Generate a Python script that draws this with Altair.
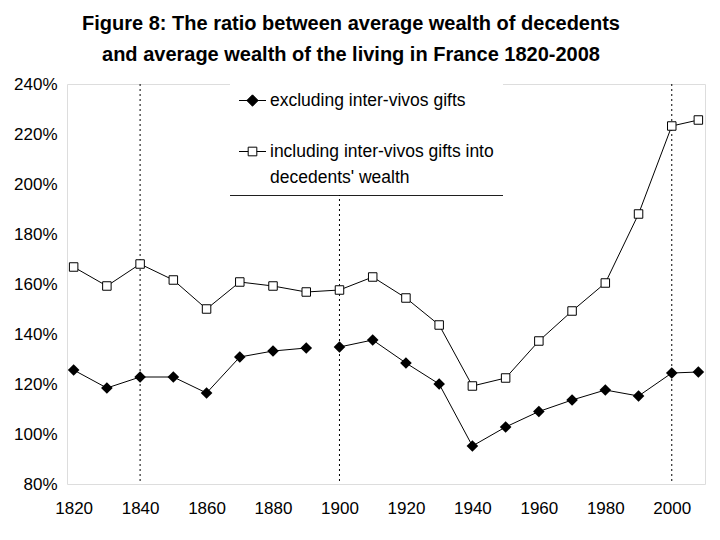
import altair as alt
import pandas as pd

# ---- data ----
years = [1820, 1830, 1840, 1850, 1860, 1870, 1880, 1890, 1900, 1910,
         1920, 1930, 1940, 1950, 1960, 1970, 1980, 1990, 2000, 2008]
excluding = [125.6, 118.4, 122.8, 122.8, 116.4, 130.8, 133.2, 134.4, 134.8, 137.6,
             128.4, 120.0, 95.2, 102.8, 109.0, 113.6, 117.6, 115.2, 124.4, 124.8]
including = [166.8, 159.2, 168.0, 161.6, 150.0, 160.8, 159.2, 156.8, 157.6, 162.8,
             154.4, 143.6, 119.2, 122.4, 137.2, 149.2, 160.4, 188.0, 223.2, 225.6]
series_labels = ["excluding inter-vivos gifts",
                 "including inter-vivos gifts into|decedents' wealth"]
excl_gap_after = 1890          # the excluding line is not drawn between 1890 and 1900
rule_years = [1840, 1900, 2000]
x_ticks = [1820, 1840, 1860, 1880, 1900, 1920, 1940, 1960, 1980, 2000]
y_ticks = [80, 100, 120, 140, 160, 180, 200, 220, 240]
title_lines = ["Figure 8: The ratio between average wealth of decedents",
               "and average wealth of the living in France 1820-2008"]

rows = []
for y, v in zip(years, excluding):
    rows.append({"year": y, "value": v, "series": series_labels[0],
                 "segment": "excl-a" if y <= excl_gap_after else "excl-b"})
for y, v in zip(years, including):
    rows.append({"year": y, "value": v, "series": series_labels[1], "segment": "incl"})
df = pd.DataFrame(rows)
rules_df = pd.DataFrame({"year": rule_years})

FONT = "Liberation Sans"
XSCALE = alt.Scale(domain=[1818, 2010], nice=False, zero=False)

x_enc = alt.X("year:Q", scale=XSCALE,
              axis=alt.Axis(values=x_ticks, format="d", title=None, domain=False, ticks=False,
                            grid=False, labelFontSize=17, labelPadding=16, labelColor="black",
                            labelFont=FONT))
y_enc = alt.Y("value:Q", scale=alt.Scale(domain=[80, 240], nice=False, zero=False),
              axis=alt.Axis(values=y_ticks, labelExpr="datum.value + '%'", title=None,
                            domain=False, ticks=False, grid=False, labelFontSize=17,
                            labelPadding=10, labelColor="black", labelFont=FONT))

rules = alt.Chart(rules_df).mark_rule(color="black", strokeWidth=1, strokeDash=[2, 3]).encode(
    x=alt.X("year:Q", scale=XSCALE)
)

lines = alt.Chart(df).mark_line(color="black", strokeWidth=1).encode(
    x=x_enc, y=y_enc, detail="segment:N", order="year:Q"
)

diamonds = alt.Chart(df).transform_filter(
    alt.datum.series == series_labels[0]
).mark_point(shape="diamond", filled=True, color="black", size=135, opacity=1).encode(
    x="year:Q", y="value:Q"
)

squares = alt.Chart(df).transform_filter(
    alt.datum.series == series_labels[1]
).mark_point(shape="square", filled=True, fill="white", stroke="black", strokeWidth=1,
             size=72, opacity=1).encode(
    x="year:Q", y="value:Q"
)

# legend symbols: a short line through the marker
legend_shapes = ["M-1,0H1M0,-0.42L0.42,0L0,0.42L-0.42,0Z",
                 "M-1,0H-0.32M0.32,0H1M-0.32,-0.32H0.32V0.32H-0.32Z"]
leg = alt.Legend(title=None, orient="none", legendX=163, legendY=-6, padding=8.5,
                 fillColor="white", symbolSize=729, symbolStrokeColor="black",
                 symbolStrokeWidth=1, symbolOpacity=1, labelFont=FONT, labelFontSize=17.5,
                 labelColor="black", labelOffset=3.5, labelLimit=400, rowPadding=28,
                 labelExpr="split(datum.label, '|')")
legend_layer = alt.Chart(df).transform_filter(
    alt.datum.year < 0
).mark_point(filled=True, strokeWidth=1).encode(
    x="year:Q", y="value:Q",
    shape=alt.Shape("series:N", scale=alt.Scale(domain=series_labels, range=legend_shapes),
                    legend=leg),
    fill=alt.Fill("series:N", scale=alt.Scale(domain=series_labels, range=["black", "white"]),
                  legend=leg),
    stroke=alt.Stroke("series:N", scale=alt.Scale(domain=series_labels, range=["black", "black"]),
                      legend=leg),
)

legend_line = alt.Chart(rules_df).mark_rule(color="black", strokeWidth=1).encode(
    x=alt.value(163), x2=alt.value(436), y=alt.value(111)
)

chart = alt.layer(rules, lines, diamonds, squares, legend_layer, legend_line).properties(
    width=638, height=400,
    autosize=alt.AutoSizeParams(type="none"),
    padding={"left": 59, "top": 76, "right": 5, "bottom": 46},
    title=alt.Title(title_lines, font=FONT, fontSize=20, fontWeight="bold", color="black",
                    anchor="middle", frame="group", dx=-35, offset=10, lineHeight=31),
).configure_view(stroke=None).configure(
    font=FONT, background="white",
    style={"guide-label": {"lineHeight": 26}},
)

chart.save("out.html", embed_options={"renderer": "svg", "actions": False})
